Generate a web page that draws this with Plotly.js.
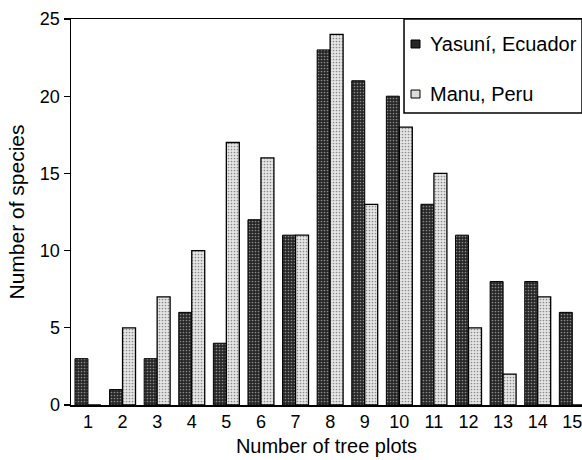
<!DOCTYPE html>
<html>
<head>
<meta charset="utf-8">
<script src="https://cdn.plot.ly/plotly-3.0.1.min.js"></script>
<style>html,body{margin:0;padding:0;background:#fff;}#chart{width:582px;height:460px;}</style>
</head>
<body>
<div id="chart"></div>
<script>
const plots = [1,2,3,4,5,6,7,8,9,10,11,12,13,14,15];
const yasuni = [3,1,3,6,4,12,11,23,21,20,13,11,8,8,6];
const manu = [0,5,7,10,17,16,11,24,13,18,15,5,2,7,0];
const yTicks = [0,5,10,15,20,25];
const seriesNames = ['Yasuní, Ecuador', 'Manu, Peru'];

const font = {family: 'Liberation Sans, Arial, sans-serif', color: '#000'};
const darkPattern = {shape:'.', fgcolor:'#8a8a8a', bgcolor:'#262626', size:3, solidity:0.25};
const lightPattern = {shape:'.', fgcolor:'#8a8a8a', bgcolor:'#e6e6e6', size:3, solidity:0.25};

const traces = [
  {type:'bar', name:seriesNames[0], x:plots, y:yasuni,
   marker:{color:'#262626', line:{color:'#000', width:1}, pattern:darkPattern}},
  {type:'bar', name:seriesNames[1], x:plots, y:manu,
   marker:{color:'#d4d4d4', line:{color:'#000', width:1.3}, pattern:lightPattern}}
];

// manual legend (box, swatches, labels) in paper coordinates
const legShapes = [
  {type:'rect', xref:'paper', yref:'paper', x0:0.6517, x1:1.0, y0:0.7565, y1:1.0,
   line:{color:'#000', width:1.5}, fillcolor:'#fff', layer:'above'},
  {type:'rect', xref:'paper', yref:'paper', x0:0.6654, x1:0.683, y0:0.9249, y1:0.9456,
   line:{color:'#000', width:1}, fillcolor:'#262626', layer:'above'},
  {type:'rect', xref:'paper', yref:'paper', x0:0.6654, x1:0.683, y0:0.7953, y1:0.816,
   line:{color:'#000', width:1}, fillcolor:'#dcdcdc', layer:'above'}
];
const legAnn = [
  {xref:'paper', yref:'paper', x:0.6986, y:0.9352, xanchor:'left', yanchor:'middle', showarrow:false,
   text:seriesNames[0], font:Object.assign({size:20}, font)},
  {xref:'paper', yref:'paper', x:0.6986, y:0.8057, xanchor:'left', yanchor:'middle', showarrow:false,
   text:seriesNames[1], font:Object.assign({size:20}, font)}
];

const layout = {
  width:582, height:460,
  margin:{l:71, r:0, t:19, b:55},
  paper_bgcolor:'#fff', plot_bgcolor:'#fff',
  barmode:'group', bargap:0.25, bargroupgap:0,
  font:Object.assign({size:18}, font),
  showlegend:false,
  xaxis:{range:[0.51,15.28], tickvals:plots, ticktext:plots.map(String), ticks:'',
         ticklabeloverflow:'allow',
         showline:true, linecolor:'#000', linewidth:1.5, mirror:true, showgrid:false, zeroline:false,
         tickfont:Object.assign({size:18}, font),
         title:{text:'Number of tree plots', font:Object.assign({size:20}, font), standoff:8}},
  yaxis:{range:[0,25], tickvals:yTicks, ticks:'outside', ticklen:6, tickwidth:1.3, tickcolor:'#000',
         showline:true, linecolor:'#000', linewidth:1.5, showgrid:false, zeroline:false,
         tickfont:Object.assign({size:18}, font),
         title:{text:'Number of species', font:Object.assign({size:21}, font), standoff:9}},
  shapes:legShapes,
  annotations:legAnn
};

Plotly.newPlot('chart', traces, layout, {displayModeBar:false, staticPlot:true});
</script>
</body>
</html>
